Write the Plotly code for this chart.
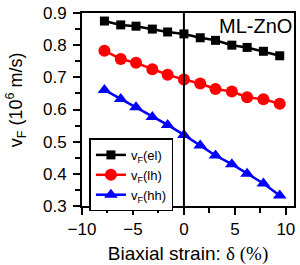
import plotly.graph_objects as go

strain = [-7.8, -6.2, -4.7, -3.1, -1.6, 0.0, 1.6, 3.1, 4.7, 6.2, 7.8, 9.4]
v_el = [0.875, 0.863, 0.859, 0.850, 0.841, 0.835, 0.823, 0.815, 0.800, 0.793, 0.781, 0.767]
v_lh = [0.783, 0.757, 0.745, 0.725, 0.708, 0.693, 0.681, 0.664, 0.656, 0.638, 0.632, 0.618]
v_hh = [0.661, 0.633, 0.607, 0.577, 0.552, 0.521, 0.488, 0.457, 0.430, 0.400, 0.370, 0.333]

names = ["v<sub>F</sub>(el)", "v<sub>F</sub>(lh)", "v<sub>F</sub>(hh)"]
colors = ["#000000", "#ff0000", "#0000ff"]
symbols = ["square", "circle", "triangle-up"]
sizes = [9, 12, 12]

fig = go.Figure()
for ys, nm, c, s, sz in zip([v_el, v_lh, v_hh], names, colors, symbols, sizes):
    fig.add_trace(go.Scatter(x=strain, y=ys, mode="lines+markers", name=nm,
                             line=dict(color=c, width=2.5),
                             marker=dict(symbol=s, size=sz, color=c)))

fig.add_vline(x=0, line=dict(color="black", width=2))

axis_common = dict(showline=True, linecolor="black", linewidth=2, mirror=True,
                   ticks="outside", tickcolor="black", tickwidth=2, ticklen=7,
                   showgrid=False, zeroline=False,
                   tickfont=dict(family="Arial, Liberation Sans", size=17, color="black"))

fig.update_layout(
    width=300, height=265,
    margin=dict(l=82, r=4, t=10, b=57),
    plot_bgcolor="white", paper_bgcolor="white",
    font=dict(family="Arial, Liberation Sans", size=16, color="black"),
    xaxis=dict(range=[-10, 10.8], tickvals=[-10, -5, 0, 5, 10],
               minor=dict(ticks="outside", dtick=2.5, tick0=0, ticklen=5, tickwidth=2, tickcolor="black"),
               title=dict(text="Biaxial strain: <span style='font-family:Liberation Serif'>δ (%)</span>",
                          font=dict(size=19), standoff=8),
               **axis_common),
    yaxis=dict(range=[0.3, 0.9], dtick=0.1, tickformat=".1f", ticklabelstandoff=3,
               minor=dict(ticks="outside", dtick=0.05, ticklen=5, tickwidth=2, tickcolor="black"),
               **axis_common),
    legend=dict(x=0.035, y=0.35, xanchor="left", yanchor="top",
                bordercolor="black", borderwidth=1.5, bgcolor="white",
                font=dict(size=13), tracegroupgap=0, itemwidth=30),
    showlegend=True,
)

fig.add_annotation(text="v<sub>F</sub> (10<sup>6</sup> m/s)", xref="paper", yref="paper",
                   x=-0.31, y=0.55, xanchor="center", yanchor="middle", textangle=-90,
                   showarrow=False, font=dict(size=18, color="black"))

fig.add_annotation(text="ML-ZnO", xref="paper", yref="paper", x=1.0, y=1.0,
                   xanchor="right", yanchor="top", showarrow=False,
                   font=dict(size=20, color="black"))

fig.write_html("out.html", post_script="document.body.style.margin='0';",
               config={"displayModeBar": False})
